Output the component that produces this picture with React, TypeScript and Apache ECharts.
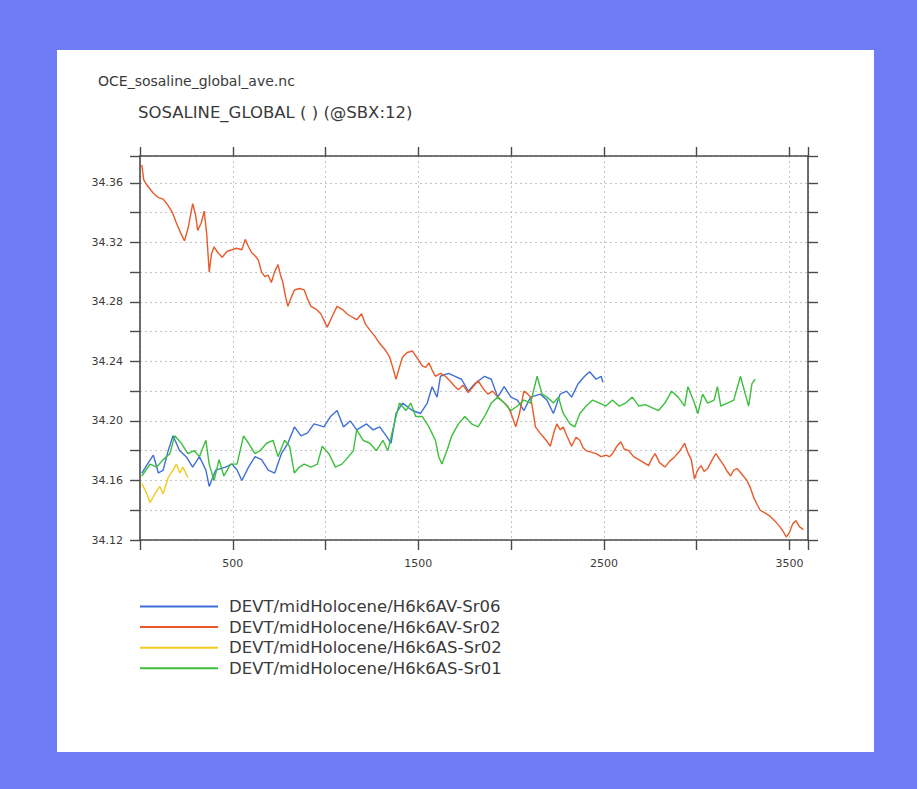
import React, { useEffect, useRef } from "react";
import * as echarts from "echarts";

// Global mean sea-surface salinity time series (model years vs. PSU)
const seriesNames = [
  "DEVT/midHolocene/H6k6AV-Sr06",
  "DEVT/midHolocene/H6k6AV-Sr02",
  "DEVT/midHolocene/H6k6AS-Sr02",
  "DEVT/midHolocene/H6k6AS-Sr01",
];
const seriesColors = ["#3f6fd8", "#e85a2a", "#f0cc20", "#3cbf3c"];

const sr06Years = [
  10, 45, 72, 99, 125, 152, 178, 214, 249, 284, 320, 355, 373, 408, 461, 496, 523, 549, 585, 620, 655,
  691, 726, 762, 797, 832, 868, 903, 938, 991, 1027, 1062, 1097, 1133, 1168, 1221, 1256, 1292, 1327,
  1353, 1380, 1415, 1468, 1512, 1548, 1574, 1601, 1619, 1663, 1698, 1733, 1769, 1804, 1857, 1893,
  1928, 1963, 1999, 2034, 2069, 2105, 2158, 2193, 2228, 2264, 2299, 2326, 2361, 2396, 2423, 2458,
  2485, 2495,
];
const sr06Sal = [
  34.165, 34.172, 34.177, 34.165, 34.167, 34.18, 34.19, 34.18, 34.176, 34.169, 34.176, 34.167, 34.156,
  34.167, 34.169, 34.171, 34.167, 34.16, 34.169, 34.176, 34.174, 34.167, 34.165, 34.178, 34.185,
  34.196, 34.19, 34.192, 34.198, 34.196, 34.203, 34.207, 34.196, 34.2, 34.194, 34.198, 34.194,
  34.196, 34.19, 34.185, 34.205, 34.212, 34.207, 34.205, 34.212, 34.223, 34.216, 34.23, 34.232,
  34.23, 34.228, 34.22, 34.225, 34.23, 34.228, 34.216, 34.223, 34.216, 34.214, 34.207, 34.216,
  34.218, 34.214, 34.205, 34.218, 34.22, 34.216, 34.225, 34.23, 34.233, 34.228, 34.23, 34.226,
];

const av02Years = [
  10, 20, 40, 72, 100, 125, 150, 175, 196, 220, 240, 260, 284, 300, 311, 330, 346, 360, 373, 385, 399,
  420, 443, 470, 496, 520, 549, 567, 585, 602, 620, 638, 655, 673, 690, 708, 725, 744, 757, 770, 785,
  797, 815, 832, 860, 885, 903, 921, 950, 974, 990, 1009, 1035, 1062, 1090, 1115, 1140, 1168, 1194,
  1215, 1239, 1265, 1292, 1320, 1345, 1362, 1380, 1398, 1415, 1440, 1468, 1495, 1521, 1540, 1557,
  1575, 1592, 1620, 1645, 1670, 1698, 1716, 1740, 1769, 1795, 1822, 1848, 1875, 1900, 1928, 1955,
  1981, 2000, 2025, 2045, 2069, 2090, 2105, 2120, 2131, 2155, 2175, 2195, 2211, 2230, 2246, 2265,
  2281, 2300, 2326, 2350, 2370, 2388, 2405, 2430, 2458, 2485, 2511, 2530, 2546, 2570, 2591, 2610,
  2635, 2660, 2688, 2715, 2741, 2760, 2776, 2800, 2829, 2855, 2882, 2910, 2935, 2955, 2971, 2988,
  3005, 3024, 3040, 3059, 3080, 3103, 3125, 3147, 3165, 3183, 3200, 3218, 3245, 3271, 3290, 3306,
  3325, 3342, 3370, 3395, 3420, 3448, 3465, 3483, 3500, 3518, 3535, 3554, 3575,
];
const av02Sal = [
  34.372, 34.362, 34.358, 34.353, 34.35, 34.349, 34.345, 34.34, 34.333, 34.326, 34.321, 34.33, 34.346,
  34.338, 34.328, 34.333, 34.341, 34.325, 34.3, 34.312, 34.317, 34.313, 34.31, 34.314, 34.315,
  34.316, 34.315, 34.322, 34.317, 34.313, 34.311, 34.308, 34.3, 34.297, 34.298, 34.293, 34.3, 34.305,
  34.298, 34.293, 34.283, 34.277, 34.283, 34.288, 34.289, 34.288, 34.282, 34.277, 34.275, 34.272,
  34.268, 34.263, 34.27, 34.277, 34.275, 34.272, 34.27, 34.268, 34.272, 34.265, 34.261, 34.257,
  34.252, 34.248, 34.243, 34.236, 34.228, 34.236, 34.243, 34.246, 34.247, 34.242, 34.237, 34.236,
  34.239, 34.234, 34.23, 34.232, 34.23, 34.227, 34.223, 34.221, 34.224, 34.219, 34.223, 34.227,
  34.222, 34.218, 34.22, 34.216, 34.213, 34.21, 34.205, 34.196, 34.205, 34.22, 34.218, 34.216,
  34.205, 34.196, 34.192, 34.189, 34.186, 34.183, 34.192, 34.198, 34.194, 34.196, 34.19, 34.183,
  34.189, 34.187, 34.182, 34.18, 34.179, 34.178, 34.176, 34.177, 34.176, 34.178, 34.183, 34.186,
  34.181, 34.18, 34.176, 34.174, 34.172, 34.17, 34.175, 34.178, 34.172, 34.169, 34.173, 34.176,
  34.18, 34.185, 34.178, 34.174, 34.161, 34.167, 34.17, 34.166, 34.168, 34.173, 34.178, 34.174,
  34.17, 34.166, 34.163, 34.167, 34.168, 34.164, 34.16, 34.155, 34.149, 34.144, 34.14, 34.138,
  34.136, 34.133, 34.129, 34.126, 34.122, 34.125, 34.131, 34.133, 34.129, 34.127,
];

const as02Years = [10, 37, 54, 80, 107, 125, 152, 178, 196, 214, 231, 258];
const as02Sal = [
  34.158, 34.151, 34.145, 34.151, 34.156, 34.151, 34.162, 34.167, 34.171, 34.165, 34.169, 34.162,
];

const as01Years = [
  10, 54, 90, 125, 161, 187, 223, 258, 293, 320, 355, 373, 399, 426, 452, 488, 523, 558, 585, 620, 647,
  682, 717, 744, 779, 806, 832, 859, 885, 921, 956, 982, 1018, 1053, 1088, 1124, 1150, 1168, 1203,
  1239, 1274, 1309, 1336, 1362, 1398, 1433, 1459, 1486, 1521, 1557, 1592, 1610, 1627, 1654, 1680,
  1716, 1751, 1787, 1822, 1857, 1893, 1928, 1963, 1999, 2034, 2069, 2105, 2140, 2167, 2193, 2228,
  2255, 2281, 2317, 2343, 2370, 2405, 2440, 2476, 2511, 2546, 2582, 2617, 2653, 2688, 2723, 2759,
  2794, 2829, 2865, 2900, 2935, 2953, 2988, 3006, 3032, 3059, 3094, 3112, 3130, 3165, 3200, 3236,
  3262, 3280, 3298, 3315,
];
const as01Sal = [
  34.163, 34.171, 34.169, 34.174, 34.178, 34.19, 34.185, 34.178, 34.18, 34.176, 34.187, 34.171, 34.16,
  34.174, 34.163, 34.171, 34.171, 34.19, 34.185, 34.178, 34.18, 34.185, 34.187, 34.176, 34.187,
  34.183, 34.165, 34.169, 34.171, 34.169, 34.171, 34.183, 34.178, 34.169, 34.171, 34.176, 34.18,
  34.194, 34.187, 34.185, 34.18, 34.187, 34.18, 34.194, 34.212, 34.207, 34.212, 34.203, 34.203,
  34.196, 34.187, 34.176, 34.171, 34.18, 34.19, 34.198, 34.203, 34.198, 34.196, 34.203, 34.212,
  34.216, 34.212, 34.207, 34.21, 34.214, 34.212, 34.23, 34.218, 34.216, 34.212, 34.216, 34.205,
  34.198, 34.196, 34.205, 34.21, 34.214, 34.212, 34.21, 34.214, 34.21, 34.212, 34.216, 34.21,
  34.211, 34.209, 34.207, 34.212, 34.22, 34.216, 34.21, 34.223, 34.212, 34.205, 34.218, 34.212,
  34.214, 34.223, 34.21, 34.212, 34.214, 34.23, 34.218, 34.21, 34.225, 34.228,
];

// Axis setup: years on x, salinity on y
const xMin = 0;
const xMax = 3600;
const xStep = 500;
const xLabelled = [500, 1500, 2500, 3500];
const yMin = 34.12;
const yMax = 34.378;
const yStep = 0.02;
const yLabelled = [34.12, 34.16, 34.2, 34.24, 34.28, 34.32, 34.36];

const fileTitle = "OCE_sosaline_global_ave.nc";
const varTitle = "SOSALINE_GLOBAL ( ) (@SBX:12)";

const FONT = "DejaVu Sans";
const AXIS_COLOR = "#4a4a4a";
const TEXT_COLOR = "#3a3a3a";

const zip = (xs: number[], ys: number[]) => xs.map((x, i) => [x, ys[i]]);
const seriesData = [
  zip(sr06Years, sr06Sal),
  zip(av02Years, av02Sal),
  zip(as02Years, as02Sal),
  zip(as01Years, as01Sal),
];

export default function App() {
  const ref = useRef<HTMLDivElement>(null);

  useEffect(() => {
    if (!ref.current) return;
    const chart = echarts.init(ref.current, undefined, { renderer: "svg" });

    const axisLine = { show: true, onZero: false, lineStyle: { color: AXIS_COLOR, width: 1.6 } };
    const tickStyle = { color: AXIS_COLOR, width: 1.4 };
    const gridLine = { show: true, lineStyle: { color: "#c4c4c4", type: [2, 3], width: 1 } };

    chart.setOption({
      animation: false,
      backgroundColor: "#6e7cf5",
      graphic: [
        {
          type: "rect",
          z: -10,
          shape: { x: 57, y: 50, width: 817, height: 702 },
          style: { fill: "#ffffff" },
        },
        {
          type: "text",
          left: 98,
          top: 74,
          style: { text: fileTitle, font: `14px '${FONT}'`, fill: TEXT_COLOR },
        },
        {
          type: "text",
          left: 138,
          top: 104,
          style: { text: varTitle, font: `16.5px '${FONT}'`, fill: TEXT_COLOR },
        },
      ],
      grid: {
        left: 140,
        right: 109,
        top: 156,
        bottom: 249,
        containLabel: false,
        outerBoundsMode: "none",
      },
      legend: {
        data: seriesNames,
        orient: "vertical",
        left: 135,
        top: 593,
        icon: "rect",
        itemWidth: 78,
        itemHeight: 2,
        itemGap: 3.6,
        textStyle: {
          fontFamily: FONT,
          fontSize: 16.5,
          lineHeight: 17,
          color: TEXT_COLOR,
          padding: [0, 0, 0, 6],
        },
      },
      xAxis: [
        {
          type: "value",
          position: "bottom",
          min: xMin,
          max: xMax,
          interval: xStep,
          axisLine,
          axisTick: { show: true, inside: false, length: 10, lineStyle: tickStyle },
          axisLabel: {
            margin: 18,
            fontFamily: FONT,
            fontSize: 11,
            color: TEXT_COLOR,
            formatter: (v: number) => (xLabelled.includes(v) ? String(v) : ""),
          },
          splitLine: gridLine,
        },
        {
          type: "value",
          position: "top",
          min: xMin,
          max: xMax,
          interval: xStep,
          axisLine,
          axisTick: { show: true, inside: false, length: 9, lineStyle: tickStyle },
          axisLabel: { show: false },
          splitLine: { show: false },
        },
      ],
      yAxis: [
        {
          type: "value",
          position: "left",
          min: yMin,
          max: yMax,
          interval: yStep,
          axisLine,
          axisTick: { show: true, inside: false, length: 10, lineStyle: tickStyle },
          axisLabel: {
            margin: 17,
            fontFamily: FONT,
            fontSize: 11,
            color: TEXT_COLOR,
            formatter: (v: number) =>
              yLabelled.some((l) => Math.abs(l - v) < 1e-6) ? v.toFixed(2) : "",
          },
          splitLine: gridLine,
        },
        {
          type: "value",
          position: "right",
          min: yMin,
          max: yMax,
          interval: yStep,
          axisLine,
          axisTick: { show: true, inside: false, length: 10, lineStyle: tickStyle },
          axisLabel: { show: false },
          splitLine: { show: false },
        },
      ],
      series: seriesNames.map((name, i) => ({
        name,
        type: "line",
        xAxisIndex: 0,
        yAxisIndex: 0,
        data: seriesData[i],
        showSymbol: false,
        symbol: "none",
        color: seriesColors[i],
        lineStyle: { width: 1.4, color: seriesColors[i] },
        clip: true,
      })),
    });

    return () => chart.dispose();
  }, []);

  return (
    <div
      ref={ref}
      style={{ position: "fixed", left: 0, top: 0, width: 917, height: 789 }}
    />
  );
}
